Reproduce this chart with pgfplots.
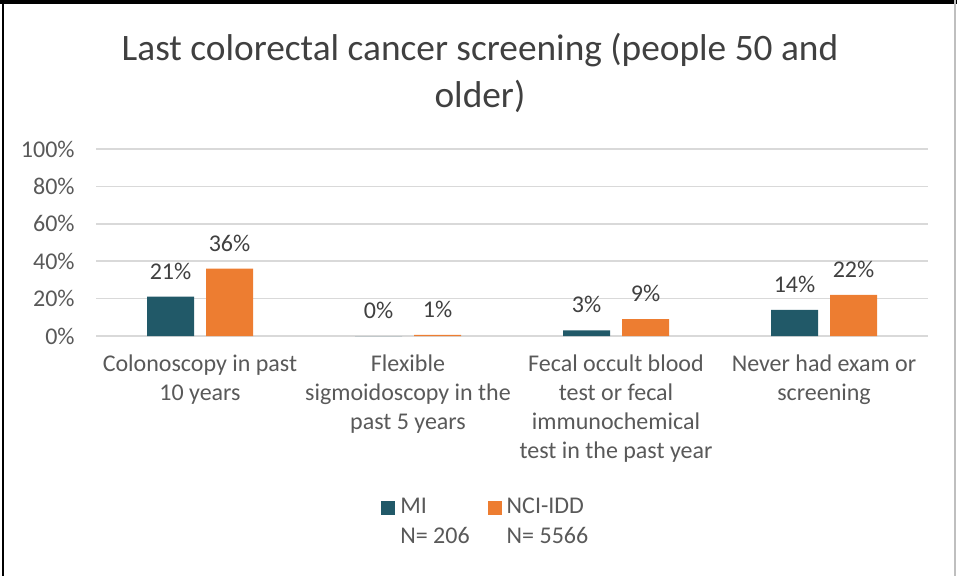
\documentclass[border=0pt]{standalone}
\usepackage{fontspec}
\setmainfont{Carlito}
\usepackage{pgfplots}
\pgfplotsset{compat=1.18}
\definecolor{mi}{HTML}{215968}
\definecolor{nci}{HTML}{ED7D31}
\definecolor{txt}{HTML}{404040}
\definecolor{tick}{HTML}{595959}
\definecolor{gridc}{HTML}{D9D9D9}
\begin{document}
\begin{tikzpicture}
\useasboundingbox (0,0) rectangle (478.5pt,-289pt);
\fill[black] (0,0) rectangle (478.5pt,-1.75pt);
\fill[black] (1pt,0) rectangle (2pt,-288pt);
\fill[gray!50] (477pt,0) rectangle (477.75pt,-288pt);
\begin{axis}[
 at={(48pt,-168pt)}, anchor=south west,
 scale only axis, width=416pt, height=93.5pt,
 xmin=-0.5, xmax=3.5, ymin=0, ymax=100,
 ybar=6pt, bar width=23.5pt,
 xtick={0,1,2,3},
 xticklabels={{Colonoscopy in past\\10 years},{Flexible\\sigmoidoscopy in the\\past 5 years},{Fecal occult blood\\test or fecal\\immunochemical\\test in the past year},{Never had exam or\\screening}},
 ytick={0,20,...,100},
 yticklabel={\pgfmathprintnumber{\tick}\%},
 /pgf/number format/assume math mode=true,
 ymajorgrids, grid style={draw=gridc, line width=0.75pt},
 axis line style={draw=none},
 major tick length=0pt,
 tick label style={font=\fontsize{12}{14.65}\selectfont, text=tick},
 yticklabel style={inner sep=0pt, xshift=-10.5pt},
 xticklabel style={align=center, anchor=north, inner sep=0pt, yshift=-9pt},
 nodes near coords={\pgfmathprintnumber[fixed,precision=0]{\pgfplotspointmeta}\%},
 every node near coord/.append style={font=\fontsize{12}{14.65}\selectfont, text=txt, inner sep=0pt, yshift=8.5pt},
 title={Last colorectal cancer screening (people 50 and\\older)},
 title style={at={(rel axis cs:0.4615,1)}, anchor=north, yshift=52pt, align=center, font=\fontsize{18.67}{23.5}\selectfont, text=txt, inner sep=0pt},
 legend columns=2,
 legend style={draw=none, fill=none, at={(rel axis cs:0.3425,-0.8125)}, anchor=north west, inner sep=0pt, font=\fontsize{12}{14.65}\selectfont, text=tick, cells={anchor=base west}, /tikz/every even column/.append style={column sep=6.5pt}, nodes={inner sep=2.5pt}},
 legend image code/.code={\fill[#1] (0pt,-0.5pt) rectangle (7pt,6.5pt);},
]
\addplot[fill=mi, draw=none] coordinates {(0,21) (1,0) (2,3) (3,14)};
\addlegendentry{\begin{tabular}[t]{@{}l@{}}MI\\N= 206\end{tabular}}
\addplot[fill=nci, draw=none] coordinates {(0,36) (1,0.6) (2,9) (3,22)};
\addlegendentry{\begin{tabular}[t]{@{}l@{}}NCI-IDD\\N= 5566\end{tabular}}
\end{axis}
\end{tikzpicture}
\end{document}
